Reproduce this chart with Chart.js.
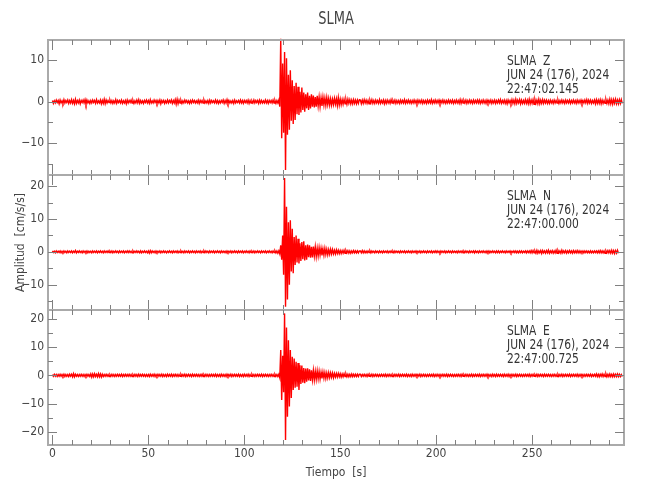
<!DOCTYPE html>
<html><head><meta charset="utf-8">
<script src="https://cdn.jsdelivr.net/npm/chart.js@4.4.1/dist/chart.umd.min.js"></script>
<style>html,body{margin:0;padding:0;background:#fff}#wrap{width:650px;height:500px;position:relative}</style>
</head><body><div id="wrap"><canvas id="c" width="650" height="500"></canvas></div>
<script>
// ---------------- data ----------------
const stationName = 'SLMA';
const components = ['Z', 'N', 'E'];
const dateLabel = 'JUN 24 (176), 2024';
const startTimes = ['22:47:02.145', '22:47:00.000', '22:47:00.725'];
const xTitle = 'Tiempo  [s]';
const yTitle = 'Amplitud  [cm/s/s]';
const sampleStart = 0;      // s
const sampleStep = 0.5;     // s between samples
const xTickValuesLabelled = [0, 50, 100, 150, 200, 250];

// Z component, cm/s/s, one value every 0.5 s from t = 0
const traceZ = [
 0.3,-0.4,0.2,-0.3,0.4,-0.2,0.3,-0.5,0.4,-0.3,0.2,-0.4,0.5,-0.3,0.3,-0.2,0.4,-0.4,0.3,-0.3, // 0
 0.5,-0.4,0.3,-0.5,0.6,-0.4,0.3,-0.3,0.4,-0.5,0.3,-0.2,0.4,-0.3,0.5,-0.6,0.4,-0.3,0.2,-0.4, // 10
 0.3,-0.3,0.4,-0.2,0.3,-0.4,0.5,-0.3,0.2,-0.3,0.4,-0.5,0.3,-0.4,0.6,-0.5,0.4,-0.3,0.3,-0.2, // 20
 0.4,-0.3,0.3,-0.4,0.2,-0.3,0.5,-0.4,0.3,-0.2,0.3,-0.3,0.4,-0.4,0.2,-0.3,0.3,-0.5,0.4,-0.3, // 30
 0.3,-0.2,0.4,-0.3,0.3,-0.4,0.2,-0.3,0.4,-0.3,0.5,-0.4,0.3,-0.3,0.2,-0.4,0.3,-0.2,0.4,-0.3, // 40
 0.3,-0.4,0.5,-0.3,0.2,-0.3,0.4,-0.2,0.3,-0.4,0.3,-0.3,0.4,-0.5,0.3,-0.2,0.3,-0.4,0.2,-0.3, // 50
 0.4,-0.3,0.3,-0.2,0.4,-0.4,0.3,-0.3,0.5,-0.6,0.6,-0.5,0.4,-0.3,0.3,-0.4,0.2,-0.3,0.4,-0.2, // 60
 0.3,-0.3,0.2,-0.4,0.3,-0.3,0.4,-0.2,0.3,-0.3,0.2,-0.3,0.4,-0.4,0.3,-0.2,0.3,-0.3,0.4,-0.3, // 70
 0.2,-0.3,0.3,-0.4,0.4,-0.3,0.3,-0.2,0.2,-0.3,0.4,-0.3,0.3,-0.4,0.2,-0.3,0.3,-0.2,0.4,-0.4, // 80
 0.3,-0.3,0.5,-0.4,0.3,-0.3,0.2,-0.3,0.3,-0.4,0.4,-0.3,0.2,-0.2,0.3,-0.3,0.4,-0.3,0.3,-0.4, // 90
 0.3,-0.2,0.3,-0.3,0.4,-0.4,0.3,-0.3,0.2,-0.3,0.4,-0.3,0.3,-0.2,0.3,-0.4,0.4,-0.3,0.3,-0.3, // 100
 0.2,-0.3,0.4,-0.3,0.3,-0.4,0.3,-0.2,0.3,-0.3,0.4,-0.3,0.3,-0.4,0.3,-0.3,0.4,               // 110 - 118
 -1.2,15.2,-8.8,9.2,-7.5,12.0,-16.5,10.5,-8.0,6.5,-6.8,7.6,-4.6,5.2,-5.4,3.8,-4.4,4.6,-3.0,3.6, // 118.5
 -3.2,2.4,-2.6,3.4,-2.0,2.2,-2.4,1.8,-1.6,2.2,-2.0,1.4,-1.6,1.8,-1.2,1.5,-1.4,1.1,-1.2,1.4,     // 128.5
 -1.0,1.1,-1.2,0.9,-1.0,1.1,-0.8,0.9,-0.9,1.0,-0.7,0.8,-0.8,0.7,-0.8,0.6,-0.7,0.8,-0.6,0.7,     // 138.5
 -0.9,1.0,-0.8,0.6,-0.7,0.5,-0.6,0.6,-0.5,0.5,-0.6,0.6,-0.4,0.5,-0.5,0.4,-0.5,0.5,-0.4,0.4,     // 148.5
 -0.5,0.4,-0.4,0.5,                                                                            // 158.5 - 160
 0.4,-0.5,0.4,-0.4,0.5,-0.3,0.4,-0.4,0.3,-0.5,0.4,-0.3,0.5,-0.4,0.3,-0.4,0.4,-0.3,0.3,-0.4, // 160.5
 0.5,-0.4,0.3,-0.3,0.4,-0.5,0.3,-0.4,0.4,-0.3,0.3,-0.4,0.5,-0.3,0.3,-0.3,0.4,-0.4,0.3,-0.3, // 170.5
 0.3,-0.4,0.4,-0.3,0.3,-0.3,0.5,-0.4,0.3,-0.3,0.4,-0.3,0.3,-0.4,0.3,-0.3,0.4,-0.3,0.3,-0.4, // 180.5
 0.4,-0.3,0.3,-0.3,0.4,-0.4,0.3,-0.3,0.3,-0.4,0.4,-0.3,0.3,-0.3,0.5,-0.4,0.3,-0.3,0.4,-0.3, // 190.5
 0.3,-0.3,0.4,-0.4,0.3,-0.3,0.4,-0.3,0.3,-0.4,0.3,-0.3,0.4,-0.3,0.3,-0.3,0.4,-0.4,0.3,-0.3, // 200.5
 0.4,-0.3,0.3,-0.4,0.5,-0.4,0.4,-0.3,0.3,-0.3,0.4,-0.4,0.3,-0.3,0.4,-0.3,0.3,-0.4,0.4,-0.3, // 210.5
 0.3,-0.3,0.4,-0.3,0.4,-0.4,0.3,-0.3,0.4,-0.3,0.3,-0.4,0.4,-0.3,0.3,-0.3,0.4,-0.4,0.3,-0.3, // 220.5
 0.4,-0.4,0.3,-0.3,0.4,-0.3,0.5,-0.4,0.3,-0.3,0.4,-0.4,0.3,-0.5,0.4,-0.3,0.3,-0.4,0.5,-0.4, // 230.5
 0.4,-0.5,0.6,-0.4,0.4,-0.3,0.5,-0.5,0.4,-0.4,0.3,-0.4,0.5,-0.4,0.4,-0.5,0.6,-0.5,0.4,-0.4, // 240.5
 0.5,-0.6,0.5,-0.4,0.4,-0.5,0.6,-0.5,0.4,-0.4,0.5,-0.4,0.4,-0.3,0.4,-0.4,0.3,-0.4,0.4,-0.3, // 250.5
 0.3,-0.4,0.4,-0.3,0.3,-0.3,0.4,-0.4,0.3,-0.3,0.4,-0.3,0.3,-0.4,0.4,-0.3,0.3,-0.3,0.4,-0.4, // 260.5
 0.3,-0.3,0.4,-0.3,0.3,-0.4,0.4,-0.3,0.3,-0.3,0.4,-0.4,0.3,-0.3,0.4,-0.3,0.5,-0.4,0.4,-0.3, // 270.5
 0.4,-0.4,0.3,-0.3,0.4,-0.5,0.5,-0.4,0.4,-0.4,0.5,-0.5,0.4,-0.4,0.3,-0.4,0.5,-0.4,0.4,-0.5, // 280.5
 0.6,-0.5,0.5,-0.6,0.5,-0.4,0.6,-0.5,0.4,-0.5,0.5,-0.4,0.5,-0.4                              // 290.5 - 297
];

// N component
const traceN = [
 0.3,-0.2,0.2,-0.3,0.3,-0.2,0.2,-0.2,0.3,-0.3,0.2,-0.2,0.3,-0.2,0.2,-0.3,0.3,-0.2,0.2,-0.2, // 0
 0.3,-0.3,0.2,-0.2,0.4,-0.3,0.2,-0.2,0.3,-0.2,0.2,-0.3,0.3,-0.2,0.2,-0.2,0.3,-0.3,0.2,-0.2, // 10
 0.2,-0.3,0.3,-0.2,0.2,-0.2,0.3,-0.3,0.2,-0.2,0.3,-0.2,0.2,-0.3,0.3,-0.2,0.2,-0.2,0.3,-0.2, // 20
 0.2,-0.2,0.3,-0.3,0.2,-0.2,0.3,-0.2,0.2,-0.3,0.3,-0.2,0.2,-0.2,0.3,-0.3,0.2,-0.2,0.3,-0.2, // 30
 0.3,-0.2,0.2,-0.3,0.3,-0.2,0.2,-0.2,0.3,-0.2,0.2,-0.3,0.3,-0.3,0.2,-0.2,0.3,-0.2,0.2,-0.3, // 40
 0.3,-0.4,0.4,-0.3,0.3,-0.2,0.2,-0.3,0.3,-0.2,0.2,-0.2,0.3,-0.3,0.2,-0.2,0.3,-0.2,0.2,-0.3, // 50
 0.2,-0.2,0.3,-0.2,0.2,-0.3,0.3,-0.2,0.2,-0.2,0.3,-0.3,0.2,-0.2,0.3,-0.2,0.2,-0.3,0.3,-0.2, // 60
 0.2,-0.2,0.3,-0.3,0.2,-0.2,0.3,-0.2,0.2,-0.3,0.3,-0.2,0.2,-0.2,0.3,-0.3,0.2,-0.2,0.3,-0.2, // 70
 0.3,-0.2,0.2,-0.3,0.3,-0.2,0.2,-0.2,0.3,-0.3,0.2,-0.2,0.3,-0.2,0.2,-0.3,0.3,-0.2,0.2,-0.2, // 80
 0.2,-0.3,0.3,-0.2,0.2,-0.2,0.3,-0.3,0.2,-0.2,0.3,-0.2,0.2,-0.3,0.3,-0.2,0.2,-0.2,0.3,-0.3, // 90
 0.2,-0.2,0.3,-0.2,0.2,-0.3,0.3,-0.2,0.2,-0.2,0.3,-0.3,0.2,-0.2,0.3,-0.2,0.2,-0.3,0.3,-0.2, // 100
 0.2,-0.2,0.3,-0.3,0.2,-0.2,0.3,-0.2,0.2,-0.3,0.3,-0.2,0.3,-0.3,0.3,-0.4,0.3,               // 110 - 118
 -0.6,2.0,-2.4,5.0,-7.0,22.5,-16.7,13.7,-14.5,9.0,-10.0,9.6,-6.0,7.0,-6.5,4.5,-4.0,5.0,-3.2,4.0, // 118.5
 -3.5,2.6,-2.8,3.0,-2.2,3.2,-2.6,2.0,-2.4,2.2,-1.6,2.0,-1.8,1.5,-1.7,1.6,-1.2,1.5,-1.4,1.1,       // 128.5
 -1.2,1.3,-0.9,1.1,-1.1,0.9,-1.0,1.1,-0.8,0.8,-0.9,0.7,-0.7,0.8,-0.6,0.7,-0.6,0.5,-0.6,0.6,       // 138.5
 -0.5,0.5,-0.5,0.4,-0.5,0.4,-0.4,0.5,-0.4,0.4,-0.3,0.4,-0.4,0.3,-0.4,0.3,-0.3,0.4,-0.3,0.3,       // 148.5
 -0.3,0.3,-0.3,0.3,                                                                               // 158.5 - 160
 0.3,-0.3,0.4,-0.3,0.3,-0.3,0.2,-0.3,0.3,-0.2,0.3,-0.3,0.3,-0.2,0.2,-0.3,0.3,-0.2,0.2,-0.3, // 160.5
 0.3,-0.2,0.2,-0.3,0.3,-0.2,0.2,-0.2,0.3,-0.3,0.2,-0.2,0.3,-0.2,0.2,-0.3,0.3,-0.2,0.2,-0.2, // 170.5
 0.2,-0.3,0.3,-0.2,0.2,-0.2,0.3,-0.3,0.2,-0.2,0.3,-0.2,0.2,-0.3,0.3,-0.2,0.2,-0.2,0.3,-0.2, // 180.5
 0.2,-0.2,0.3,-0.3,0.2,-0.2,0.3,-0.2,0.2,-0.3,0.3,-0.2,0.2,-0.2,0.3,-0.3,0.2,-0.2,0.3,-0.2, // 190.5
 0.3,-0.2,0.2,-0.3,0.3,-0.2,0.2,-0.2,0.3,-0.3,0.2,-0.2,0.3,-0.2,0.2,-0.3,0.3,-0.2,0.2,-0.2, // 200.5
 0.2,-0.3,0.3,-0.2,0.2,-0.2,0.3,-0.3,0.2,-0.2,0.3,-0.2,0.2,-0.3,0.3,-0.2,0.2,-0.2,0.3,-0.3, // 210.5
 0.3,-0.2,0.2,-0.3,0.3,-0.2,0.2,-0.2,0.3,-0.2,0.2,-0.3,0.3,-0.2,0.3,-0.3,0.2,-0.2,0.3,-0.2, // 220.5
 0.2,-0.3,0.3,-0.2,0.3,-0.3,0.2,-0.2,0.3,-0.2,0.2,-0.3,0.3,-0.2,0.2,-0.2,0.3,-0.3,0.2,-0.2, // 230.5
 0.3,-0.2,0.3,-0.3,0.2,-0.3,0.3,-0.2,0.3,-0.3,0.2,-0.2,0.3,-0.3,0.3,-0.2,0.3,-0.3,0.4,-0.3, // 240.5
 0.4,-0.3,0.3,-0.4,0.5,-0.4,0.3,-0.3,0.4,-0.5,0.4,-0.3,0.3,-0.4,0.4,-0.3,0.5,-0.4,0.3,-0.3, // 250.5
 0.4,-0.4,0.3,-0.3,0.5,-0.4,0.4,-0.3,0.3,-0.4,0.5,-0.3,0.3,-0.3,0.4,-0.4,0.3,-0.3,0.4,-0.3, // 260.5
 0.3,-0.4,0.4,-0.3,0.3,-0.3,0.4,-0.3,0.3,-0.3,0.3,-0.2,0.3,-0.3,0.3,-0.2,0.3,-0.3,0.2,-0.3, // 270.5
 0.3,-0.3,0.2,-0.3,0.3,-0.2,0.3,-0.3,0.3,-0.3,0.4,-0.3,0.3,-0.3,0.3,-0.4,0.3,-0.3,0.4,-0.3, // 280.5
 0.4,-0.4,0.5,-0.4,0.4,-0.5,0.4,-0.4,0.5,-0.4                                               // 290.5 - 295
];

// E component
const traceE = [
 0.3,-0.3,0.4,-0.3,0.3,-0.4,0.3,-0.3,0.4,-0.3,0.3,-0.3,0.4,-0.4,0.3,-0.3,0.3,-0.4,0.4,-0.3, // 0
 0.4,-0.5,0.6,-0.5,0.4,-0.3,0.3,-0.4,0.3,-0.3,0.4,-0.3,0.3,-0.4,0.3,-0.3,0.4,-0.3,0.3,-0.4, // 10
 0.5,-0.6,0.5,-0.5,0.6,-0.4,0.4,-0.5,0.6,-0.5,0.5,-0.6,0.4,-0.4,0.3,-0.3,0.4,-0.3,0.3,-0.4, // 20
 0.3,-0.3,0.4,-0.3,0.3,-0.4,0.3,-0.3,0.4,-0.3,0.3,-0.3,0.4,-0.4,0.3,-0.3,0.4,-0.3,0.3,-0.3, // 30
 0.4,-0.3,0.3,-0.4,0.3,-0.3,0.4,-0.3,0.3,-0.4,0.4,-0.3,0.3,-0.3,0.4,-0.3,0.3,-0.4,0.3,-0.3, // 40
 0.3,-0.4,0.4,-0.3,0.3,-0.3,0.4,-0.4,0.3,-0.3,0.4,-0.3,0.3,-0.3,0.4,-0.4,0.3,-0.3,0.3,-0.4, // 50
 0.4,-0.3,0.3,-0.3,0.4,-0.4,0.3,-0.3,0.4,-0.3,0.3,-0.4,0.3,-0.3,0.4,-0.3,0.3,-0.3,0.4,-0.4, // 60
 0.3,-0.3,0.4,-0.3,0.3,-0.4,0.4,-0.3,0.3,-0.3,0.4,-0.3,0.3,-0.4,0.3,-0.3,0.4,-0.4,0.3,-0.3, // 70
 0.4,-0.3,0.3,-0.4,0.3,-0.3,0.4,-0.3,0.3,-0.3,0.4,-0.4,0.3,-0.3,0.3,-0.4,0.4,-0.3,0.3,-0.3, // 80
 0.3,-0.4,0.4,-0.3,0.3,-0.3,0.4,-0.4,0.3,-0.3,0.4,-0.3,0.3,-0.3,0.4,-0.4,0.3,-0.3,0.3,-0.4, // 90
 0.4,-0.3,0.3,-0.3,0.4,-0.4,0.3,-0.3,0.4,-0.3,0.3,-0.4,0.3,-0.3,0.4,-0.3,0.3,-0.3,0.4,-0.4, // 100
 0.3,-0.3,0.4,-0.3,0.3,-0.4,0.3,-0.3,0.4,-0.3,0.3,-0.4,0.4,-0.3,0.3,-0.4,0.4,               // 110 - 118
 -0.8,9.0,-8.7,7.0,-6.0,22.0,-22.9,17.0,-14.7,12.5,-11.0,9.0,-8.0,6.6,-5.2,6.0,-4.4,4.8,-4.0,4.4, // 118.5
 -5.2,3.6,-3.0,3.5,-2.6,2.6,-2.8,2.4,-2.2,2.5,-1.8,2.2,-2.0,1.8,-1.5,1.8,-1.6,1.4,-1.4,1.6,        // 128.5
 -1.2,1.4,-1.3,1.1,-1.1,1.2,-1.0,1.0,-1.1,0.9,-0.9,1.0,-0.8,0.9,-0.7,0.8,-0.8,0.7,-0.6,0.7,        // 138.5
 -0.6,0.7,-0.5,0.6,-0.6,0.5,-0.5,0.6,-0.4,0.5,-0.5,0.4,-0.5,0.4,-0.4,0.5,-0.4,0.4,-0.4,0.4,        // 148.5
 -0.4,0.4,-0.4,0.4,                                                                                // 158.5 - 160
 0.4,-0.4,0.3,-0.3,0.4,-0.3,0.3,-0.4,0.4,-0.3,0.3,-0.3,0.4,-0.4,0.3,-0.3,0.4,-0.3,0.3,-0.4, // 160.5
 0.3,-0.3,0.4,-0.3,0.3,-0.3,0.4,-0.4,0.3,-0.3,0.4,-0.3,0.3,-0.4,0.3,-0.3,0.4,-0.3,0.3,-0.3, // 170.5
 0.4,-0.4,0.3,-0.3,0.4,-0.3,0.3,-0.3,0.4,-0.4,0.3,-0.3,0.3,-0.4,0.4,-0.3,0.3,-0.3,0.4,-0.3, // 180.5
 0.3,-0.3,0.4,-0.4,0.3,-0.3,0.4,-0.3,0.3,-0.4,0.3,-0.3,0.4,-0.3,0.3,-0.3,0.4,-0.4,0.3,-0.3, // 190.5
 0.4,-0.3,0.3,-0.4,0.3,-0.3,0.4,-0.3,0.3,-0.3,0.4,-0.4,0.3,-0.3,0.4,-0.3,0.3,-0.4,0.3,-0.3, // 200.5
 0.3,-0.3,0.4,-0.3,0.3,-0.4,0.4,-0.3,0.3,-0.3,0.4,-0.3,0.3,-0.4,0.3,-0.3,0.4,-0.4,0.3,-0.3, // 210.5
 0.4,-0.3,0.3,-0.3,0.4,-0.4,0.3,-0.3,0.4,-0.3,0.3,-0.3,0.4,-0.4,0.3,-0.3,0.3,-0.4,0.4,-0.3, // 220.5
 0.3,-0.4,0.4,-0.3,0.3,-0.3,0.4,-0.3,0.3,-0.4,0.4,-0.3,0.3,-0.3,0.4,-0.4,0.3,-0.3,0.4,-0.3, // 230.5
 0.3,-0.3,0.4,-0.4,0.3,-0.3,0.4,-0.3,0.3,-0.4,0.3,-0.3,0.4,-0.3,0.3,-0.3,0.4,-0.4,0.3,-0.3, // 240.5
 0.4,-0.3,0.3,-0.3,0.4,-0.4,0.3,-0.3,0.4,-0.3,0.3,-0.4,0.4,-0.3,0.3,-0.3,0.4,-0.3,0.3,-0.4, // 250.5
 0.3,-0.3,0.4,-0.3,0.3,-0.4,0.4,-0.3,0.3,-0.3,0.4,-0.4,0.3,-0.3,0.4,-0.3,0.3,-0.3,0.4,-0.4, // 260.5
 0.3,-0.3,0.4,-0.3,0.3,-0.3,0.4,-0.4,0.3,-0.3,0.4,-0.3,0.3,-0.4,0.3,-0.3,0.4,-0.3,0.3,-0.3, // 270.5
 0.4,-0.4,0.3,-0.3,0.4,-0.3,0.5,-0.4,0.4,-0.5,0.4,-0.3,0.5,-0.4,0.4,-0.4,0.5,-0.5,0.4,-0.4, // 280.5
 0.5,-0.4,0.4,-0.5,0.5,-0.4,0.4,-0.4,0.5,-0.4,0.4,-0.4,0.3,-0.4                              // 290.5 - 297
];

// axis ranges
const xRange = [-2.3, 297.9];
const yRangeZ = [-17.7, 14.9];
const yRangeN = [-17.7, 23.4];
const yRangeE = [-24.7, 23.2];

// ---------------- chart ----------------
const FONT = "'Liberation Sans Narrow','Arial Narrow','DejaVu Sans Condensed',sans-serif";
const TXT = '#444444';
const toPoints = vals => vals.map((v, i) => ({x: sampleStart + i * sampleStep, y: v}));
const yLabel = v => (v % 10 === 0 ? (v < 0 ? '\u2212' + Math.abs(v) : String(v)) : '');

function yAxis(range, extra) {
  return Object.assign({
    type: 'linear', position: 'left', stack: 'panels', stackWeight: 1,
    min: range[0], max: range[1],
    afterFit(s) { s.width = 48; },
    grid: {display: false, drawTicks: false, tickLength: 0}, border: {display: false},
    ticks: {stepSize: 5, includeBounds: false, autoSkip: false, padding: 4,
            color: TXT, font: {family: FONT, size: 12}, callback: yLabel}
  }, extra || {});
}

const panelAxes = ['yZ', 'yN', 'yE'];

function narrowText(ctx, text, x, y, sx) {
  ctx.save();
  ctx.translate(x, y);
  ctx.scale(sx, 1);
  ctx.fillText(text, 0, 0);
  ctx.restore();
}

const framePlugin = {
  id: 'seisFrame',
  afterDatasetsDraw(chart) {
    const {ctx, chartArea, scales} = chart;
    const xs = scales.x;
    const left = chartArea.left, right = chartArea.right;
    ctx.save();
    panelAxes.forEach((id, p) => {
      const ys = scales[id];
      const top = ys.top, bottom = ys.bottom;
      ctx.strokeStyle = '#aaaaaa'; ctx.lineWidth = 2;
      ctx.strokeRect(left, top, right - left, bottom - top);
      ctx.strokeStyle = '#808080'; ctx.lineWidth = 1;
      ctx.beginPath();
      xs.ticks.forEach(t => {
        const px = Math.round(xs.getPixelForValue(t.value)) + 0.5;
        const len = t.value % 50 === 0 ? 10 : 5;
        ctx.moveTo(px, bottom); ctx.lineTo(px, bottom - len);
        ctx.moveTo(px, top); ctx.lineTo(px, top + len);
      });
      ys.ticks.forEach(t => {
        const py = Math.round(ys.getPixelForValue(t.value)) + 0.5;
        const len = t.value % 10 === 0 ? 9 : 5;
        ctx.moveTo(left, py); ctx.lineTo(left + len, py);
        ctx.moveTo(right, py); ctx.lineTo(right - len, py);
      });
      ctx.stroke();
      // station / date / start-time annotation
      ctx.fillStyle = '#333333';
      ctx.font = '14px ' + FONT;
      ctx.textAlign = 'left'; ctx.textBaseline = 'middle';
      const tx = right - 117;
      narrowText(ctx, stationName, tx, top + 21, 0.85);
      narrowText(ctx, components[p], tx + 36, top + 21, 0.85);
      narrowText(ctx, dateLabel, tx, top + 35, 0.85);
      narrowText(ctx, startTimes[p], tx, top + 49, 0.85);
    });
    // figure title
    ctx.fillStyle = TXT;
    ctx.font = '17px ' + FONT;
    ctx.textAlign = 'center'; ctx.textBaseline = 'middle';
    narrowText(ctx, stationName, (left + right) / 2, 20, 0.85);
    ctx.restore();
  }
};

const mkDs = (vals, axis, clip) => ({
  data: toPoints(vals), yAxisID: axis, borderColor: '#ff0000', borderWidth: 1.4,
  pointRadius: 0, tension: 0, fill: false, clip: clip
});

new Chart(document.getElementById('c'), {
  type: 'line',
  data: {datasets: [
    mkDs(traceZ, 'yZ', {left: 0, top: 10, right: 0, bottom: 0}),
    mkDs(traceN, 'yN', 0),
    mkDs(traceE, 'yE', 0)
  ]},
  options: {
    responsive: false, animation: false, parsing: false, normalized: true, events: [],
    layout: {padding: {left: 0, right: 26, top: 40, bottom: 0}},
    plugins: {legend: {display: false}, tooltip: {enabled: false}, title: {display: false}},
    scales: {
      x: {
        type: 'linear', position: 'bottom', min: xRange[0], max: xRange[1],
        afterFit(s) { s.height = 55; },
        grid: {display: false, drawTicks: false, tickLength: 0}, border: {display: false},
        ticks: {stepSize: 10, includeBounds: false, autoSkip: false, maxRotation: 0, padding: 2,
                color: TXT, font: {family: FONT, size: 12},
                callback: v => (xTickValuesLabelled.includes(v) ? String(v) : '')},
        title: {display: true, text: xTitle, color: TXT, font: {family: FONT, size: 12},
                padding: {top: 0, bottom: 20}}
      },
      yE: yAxis(yRangeE),
      yN: yAxis(yRangeN, {title: {display: true, text: yTitle, color: TXT,
                                  font: {family: FONT, size: 12}, padding: {top: 14, bottom: 0}}}),
      yZ: yAxis(yRangeZ)
    }
  },
  plugins: [framePlugin]
});
</script>
</body></html>
